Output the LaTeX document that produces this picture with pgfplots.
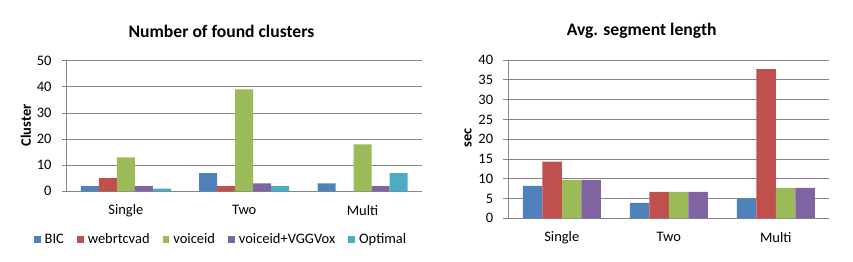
\documentclass[border=0pt]{standalone}
\usepackage{pgfplots}
\pgfplotsset{compat=1.18}
\usepackage{fontspec}
\setmainfont{Carlito}
\definecolor{cBIC}{HTML}{4F81BD}
\definecolor{cWeb}{HTML}{C0504D}
\definecolor{cVoi}{HTML}{9BBB59}
\definecolor{cVGG}{HTML}{8064A2}
\definecolor{cOpt}{HTML}{4BACC6}
\definecolor{gridg}{RGB}{134,134,134}
\pgfplotsset{
  excel/.style={
    scale only axis,
    anchor=south west,
    /pgf/number format/assume math mode=true,
    xmin=-0.5, xmax=2.5,
    ymin=0,
    xtick={0,1,2},
    xticklabels={Single,Two,Multi},
    major x tick style={draw=none},
    extra x ticks={-0.5,0.5,1.5,2.5},
    extra x tick labels={},
    extra x tick style={major tick length=5pt, tick style={draw=gridg, line width=0.8pt}, grid=none},
    tick align=outside,
    major tick length=5pt,
    ytick style={draw=gridg, line width=0.8pt},
    axis x line*=bottom,
    axis y line*=left,
    axis line style={draw=gridg, line width=0.8pt, -},
    ymajorgrids,
    major grid style={draw=gridg, line width=0.8pt},
    tick label style={font=\fontsize{14.5}{16}\selectfont, text=black},
    xticklabel style={anchor=center, yshift=-14pt},
    yticklabel style={anchor=east, inner sep=0pt, xshift=-10pt},
    ylabel style={font=\fontsize{14.5}{16}\selectfont\bfseries, anchor=center},
    ybar=0pt,
    every axis plot/.append style={draw=none},
    legend image code/.code={\fill[##1] (0pt,-3.4pt) rectangle (6.8pt,3.4pt);},
  }
}
\begin{document}
\begin{tikzpicture}[x=1pt,y=1pt]
\useasboundingbox (0,0) rectangle (853,262);
\node[font=\fontsize{17.6}{19}\selectfont\bfseries] at (221.5,230.5) {Number of found clusters};
\node[font=\fontsize{17.6}{19}\selectfont\bfseries] at (641.7,231) {Avg. segment length};
\begin{axis}[excel,
  at={(66.7pt,70.7pt)}, width=355pt, height=130.6pt,
  ymax=50, ytick={0,10,20,30,40,50},
  bar width=18pt,
  ylabel={Cluster},
  ylabel style={at={(axis description cs:-0.115,0.505)}},
  legend columns=5,
  legend style={draw=none, at={(axis description cs:0.432,-0.369)}, anchor=center,
    font=\fontsize{14.5}{16}\selectfont, fill=none,
    nodes={inner xsep=0pt, inner ysep=1pt},
    /tikz/every odd column/.append style={column sep=4pt},
    /tikz/every even column/.append style={column sep=13pt}},
]
\addplot[fill=cBIC] coordinates {(0,2) (1,7) (2,3)};
\addplot[fill=cWeb] coordinates {(0,5) (1,2)};
\addplot[fill=cVoi] coordinates {(0,13) (1,39) (2,18)};
\addplot[fill=cVGG] coordinates {(0,2) (1,3) (2,2)};
\addplot[fill=cOpt] coordinates {(0,1) (1,2) (2,7)};
\legend{BIC,webrtcvad,voiceid,voiceid+VGGVox,Optimal}
\end{axis}
\begin{axis}[excel,
  at={(508.3pt,43.7pt)}, width=321pt, height=158.3pt,
  ymax=40, ytick={0,5,...,40},
  bar width=19.5pt,
  ylabel={sec},
  ylabel style={at={(axis description cs:-0.1255,0.507)}},
]
\addplot[fill=cBIC] coordinates {(0,8.2) (1,3.9) (2,5.0)};
\addplot[fill=cWeb] coordinates {(0,14.3) (1,6.7) (2,37.7)};
\addplot[fill=cVoi] coordinates {(0,9.7) (1,6.7) (2,7.7)};
\addplot[fill=cVGG] coordinates {(0,9.7) (1,6.7) (2,7.7)};
\end{axis}
\end{tikzpicture}
\end{document}
